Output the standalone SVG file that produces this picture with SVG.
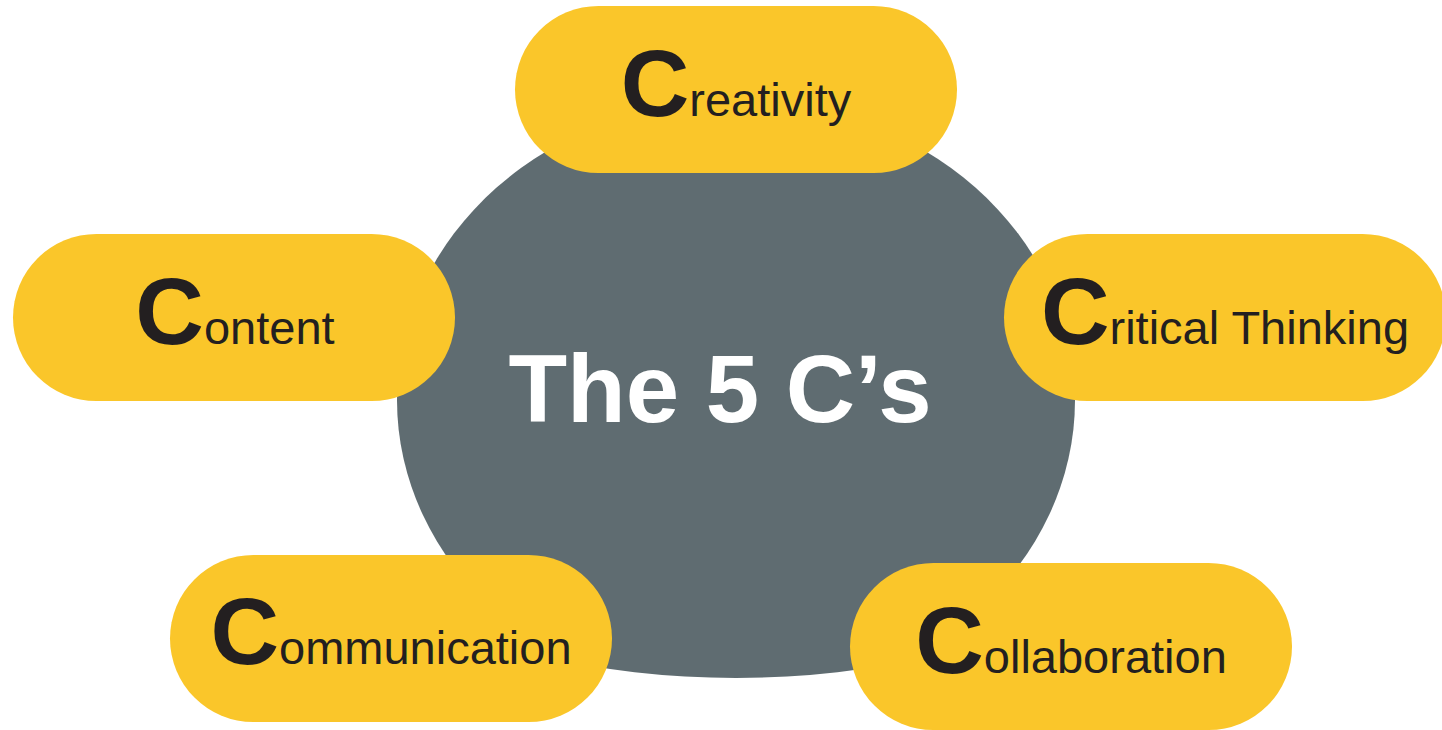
<svg xmlns="http://www.w3.org/2000/svg" width="1442" height="730" viewBox="0 0 1442 730">
  <style>
    .pill { fill: #FAC62A; }
    .lbl { font-family: "Liberation Sans", Arial, sans-serif; fill: #231F20; text-anchor: middle; }
    .big { font-size: 95px; font-weight: bold; }
    .small { font-size: 47px; }
    .title { font-family: "Liberation Sans", Arial, sans-serif; font-size: 96px; font-weight: bold; fill: #FFFFFF; text-anchor: middle; }
  </style>
  <defs>
    <clipPath id="hubClip">
      <ellipse cx="736" cy="378" rx="520" ry="300"/>
    </clipPath>
  </defs>
  <rect width="1442" height="730" fill="#FFFFFF"/>
  <g id="connectors"/>
  <g id="hub">
    <ellipse cx="736" cy="400" rx="339" ry="300" fill="#5F6C71" clip-path="url(#hubClip)"/>
    <text class="title" x="720" y="422">The 5 C’s</text>
  </g>
  <g id="creativity">
    <rect class="pill" x="515" y="6" width="442" height="167" rx="83.5"/>
    <text class="lbl" x="736" y="116"><tspan class="big">C</tspan><tspan class="small">reativity</tspan></text>
  </g>
  <g id="content">
    <rect class="pill" x="13" y="234" width="442" height="167" rx="83.5"/>
    <text class="lbl" x="235" y="344"><tspan class="big">C</tspan><tspan class="small">ontent</tspan></text>
  </g>
  <g id="critical-thinking">
    <rect class="pill" x="1004" y="234" width="442" height="167" rx="83.5"/>
    <text class="lbl" x="1225" y="344"><tspan class="big">C</tspan><tspan class="small">ritical Thinking</tspan></text>
  </g>
  <g id="communication">
    <rect class="pill" x="170" y="555" width="442" height="167" rx="83.5"/>
    <text class="lbl" x="391" y="664"><tspan class="big">C</tspan><tspan class="small">ommunication</tspan></text>
  </g>
  <g id="collaboration">
    <rect class="pill" x="850" y="563" width="442" height="167" rx="83.5"/>
    <text class="lbl" x="1071" y="673"><tspan class="big">C</tspan><tspan class="small">ollaboration</tspan></text>
  </g>
</svg>
